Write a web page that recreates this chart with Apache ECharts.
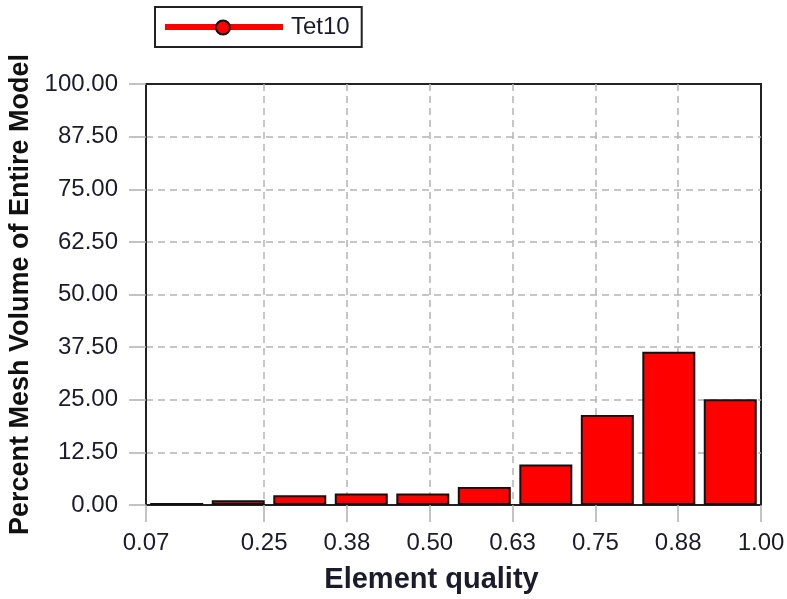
<!DOCTYPE html>
<html>
<head>
<meta charset="utf-8">
<title>Tet10 element quality</title>
<script src="https://cdn.jsdelivr.net/npm/echarts@6/dist/echarts.min.js"></script>
<style>
  html, body { margin: 0; padding: 0; background: #ffffff; }
  #chart { width: 787px; height: 599px; }
</style>
</head>
<body>
<div id="chart"></div>
<script>
// Histogram bin edges (element quality) and the share of mesh volume in each bin
const binEdges = [0.0717, 0.1645, 0.2574, 0.3502, 0.4431, 0.5359, 0.6288, 0.7216, 0.8145, 0.9072, 1.0];
const volumePercent = [0.5, 1.1, 2.3, 2.75, 2.75, 4.25, 9.6, 21.4, 36.4, 25.1];
const xTickValues = [0.0717, 0.25, 0.375, 0.5, 0.625, 0.75, 0.875, 1.0];
const seriesName = 'Tet10';

// Each bar sits at the middle of its bin
const barData = volumePercent.map((v, i) => [(binEdges[i] + binEdges[i + 1]) / 2, v]);

const textColor = '#1b1b2b';
const fontFamily = '"Liberation Sans", Arial, sans-serif';
const gridDash = { color: '#b4b4b4', width: 1.5, type: [7, 5] };

const chart = echarts.init(document.getElementById('chart'), null, { renderer: 'canvas' });

chart.setOption({
  animation: false,
  backgroundColor: '#ffffff',
  textStyle: { fontFamily: fontFamily },
  legend: {
    left: 155,
    top: 7,
    orient: 'horizontal',
    padding: [8, 12, 8, 10],
    borderColor: '#222222',
    borderWidth: 2,
    itemWidth: 118,
    itemHeight: 6,
    icon: 'rect',
    itemStyle: { color: '#ff0000', borderWidth: 0 },
    textStyle: { fontSize: 24, color: textColor, fontFamily: fontFamily, padding: [0, 4, 0, 3] },
    data: [seriesName],
    selectedMode: false
  },
  grid: {
    left: 146,
    right: 26,
    top: 84,
    bottom: 94,
    outerBoundsMode: 'none',
    containLabel: false,
    show: true,
    borderColor: '#222222',
    borderWidth: 2,
    backgroundColor: 'transparent'
  },
  xAxis: {
    type: 'value',
    min: binEdges[0],
    max: binEdges[binEdges.length - 1],
    name: 'Element quality',
    nameLocation: 'middle',
    nameGap: 60,
    nameTextStyle: {
      fontSize: 29, fontWeight: 'bold', color: textColor, fontFamily: fontFamily,
      padding: [0, 44, 0, 0]
    },
    axisLine: { show: true, lineStyle: { color: '#222222', width: 2 } },
    axisTick: {
      show: true, inside: false, length: 17,
      customValues: xTickValues,
      lineStyle: { color: '#b0b0b0', width: 1.5 }
    },
    axisLabel: {
      customValues: xTickValues,
      margin: 26,
      fontSize: 24,
      color: textColor,
      fontFamily: fontFamily,
      showMinLabel: true,
      showMaxLabel: true,
      formatter: v => v.toFixed(2)
    },
    splitLine: { show: true, showMinLine: false, showMaxLine: false, lineStyle: gridDash }
  },
  yAxis: {
    type: 'value',
    min: 0,
    max: 100,
    interval: 12.5,
    name: 'Percent Mesh Volume of Entire Model',
    nameLocation: 'middle',
    nameGap: 106,
    nameTextStyle: { fontSize: 27, fontWeight: 'bold', color: '#111111', fontFamily: fontFamily },
    axisLine: { show: true, lineStyle: { color: '#222222', width: 2 } },
    axisTick: { show: true, inside: false, length: 17, lineStyle: { color: '#b0b0b0', width: 1.5 } },
    axisLabel: {
      margin: 28,
      fontSize: 24,
      color: textColor,
      fontFamily: fontFamily,
      formatter: v => v.toFixed(2)
    },
    splitLine: { show: true, showMinLine: false, showMaxLine: false, lineStyle: gridDash }
  },
  series: [{
    name: seriesName,
    type: 'bar',
    data: barData,
    barWidth: 53,
    itemStyle: { color: '#ff0000', borderColor: '#111111', borderWidth: 2 },
    emphasis: { disabled: true }
  }],
  graphic: [{
    // round marker drawn on the legend's line sample
    type: 'circle',
    shape: { cx: 223, cy: 27.5, r: 7 },
    style: { fill: '#ff0000', stroke: '#111111', lineWidth: 2 },
    z: 100
  }]
});
</script>
</body>
</html>
